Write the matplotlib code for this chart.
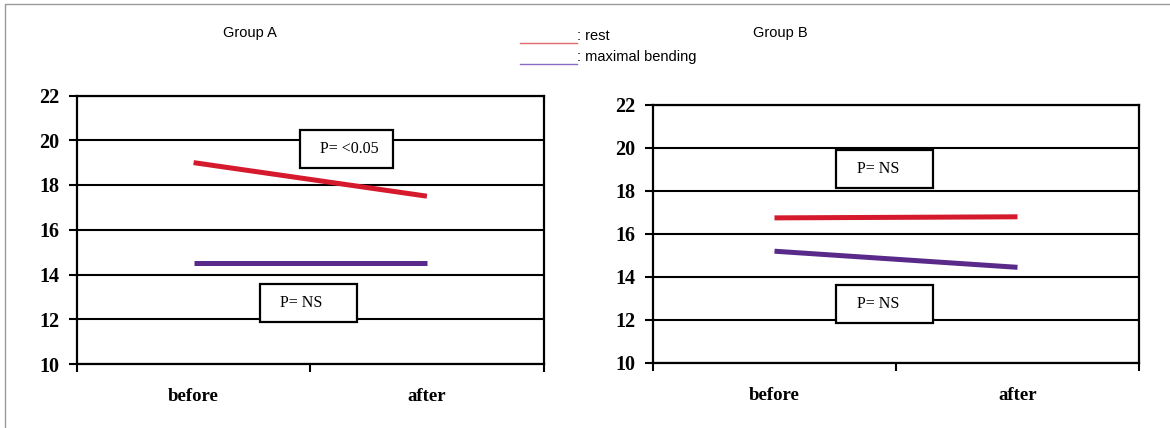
import matplotlib
matplotlib.use("Agg")
import matplotlib.pyplot as plt
from matplotlib.patches import Rectangle

# data
categories = ["before", "after"]
rest_a = [19.0, 17.5]
bend_a = [14.5, 14.5]
rest_b = [16.75, 16.8]
bend_b = [15.2, 14.45]
yticks = [10, 12, 14, 16, 18, 20, 22]

RED = "#d41a2c"
PURPLE = "#5a2a8a"

fig = plt.figure(figsize=(11.7, 4.28), dpi=100)
W, H = 1170, 428


def make_axes(x0, x1, ytop, ybot):
    return fig.add_axes([x0 / W, 1 - ybot / H, (x1 - x0) / W, (ybot - ytop) / H])


def draw_panel(ax, rest, bend, boxes):
    xs = list(range(len(categories)))
    ax.set_xlim(-0.5, 1.5)
    ax.set_ylim(10, 22)
    for y in yticks:
        ax.axhline(y, color="black", lw=1.5, zorder=1)
    ax.plot(xs, rest, color=RED, lw=3.6, solid_capstyle="butt", zorder=3)
    ax.plot(xs, bend, color=PURPLE, lw=3.6, solid_capstyle="butt", zorder=3)
    for spine in ax.spines.values():
        spine.set_linewidth(1.6)
    ax.set_yticks(yticks)
    ax.set_yticklabels([str(v) for v in yticks], family="Liberation Serif",
                       weight="bold", fontsize=14.5)
    ax.tick_params(axis="y", length=5.5, width=1.5, direction="out", pad=7)
    ax.set_xticks([-0.5, 0.5, 1.5])
    ax.set_xticklabels([])
    ax.tick_params(axis="x", which="major", length=6, width=1.5, direction="out")
    ax.set_xticks(xs, minor=True)
    ax.set_xticklabels(categories, minor=True, family="Liberation Serif",
                       weight="bold", fontsize=13.5)
    ax.tick_params(axis="x", which="minor", length=0, pad=17)
    for (bx, by, bw, bh, txt) in boxes:
        ax.add_patch(Rectangle((bx, by), bw, bh, facecolor="white",
                               edgecolor="black", lw=1.6, zorder=4))
        ax.text(bx + 0.085, by + bh / 2, txt, family="Liberation Serif",
                fontsize=11.5, va="center", ha="left", zorder=5)


ax_a = make_axes(77, 543.5, 95.5, 364)
draw_panel(ax_a, rest_a, bend_a,
           [(0.456, 18.75, 0.40, 1.7, "P= <0.05"), (0.285, 11.87, 0.415, 1.7, "P= NS")])

ax_b = make_axes(653, 1139, 105, 363)
draw_panel(ax_b, rest_b, bend_b,
           [(0.253, 18.14, 0.40, 1.77, "P= NS"), (0.253, 11.86, 0.40, 1.77, "P= NS")])

# titles and legend
fig.text(250 / W, 1 - 33 / H, "Group A", family="Liberation Sans", fontsize=10.5,
         ha="center", va="center")
fig.text(780 / W, 1 - 33 / H, "Group B", family="Liberation Sans", fontsize=10.5,
         ha="center", va="center")
fig.add_artist(plt.Line2D([520 / W, 577 / W], [1 - 43 / H, 1 - 43 / H],
                          color="#e06a6a", lw=1.0))
fig.add_artist(plt.Line2D([520 / W, 577 / W], [1 - 64 / H, 1 - 64 / H],
                          color="#8a6ac8", lw=1.0))
fig.text(577 / W, 1 - 36 / H, ": rest", family="Liberation Sans", fontsize=10.5,
         ha="left", va="center")
fig.text(577 / W, 1 - 57 / H, ": maximal bending", family="Liberation Sans",
         fontsize=10.5, ha="left", va="center")

# outer frame (left and top only)
fig.add_artist(plt.Line2D([5 / W, 5 / W, 1], [0, 1 - 4 / H, 1 - 4 / H],
                          color="#999999", lw=1.0))

fig.savefig("out.png", dpi=100)
